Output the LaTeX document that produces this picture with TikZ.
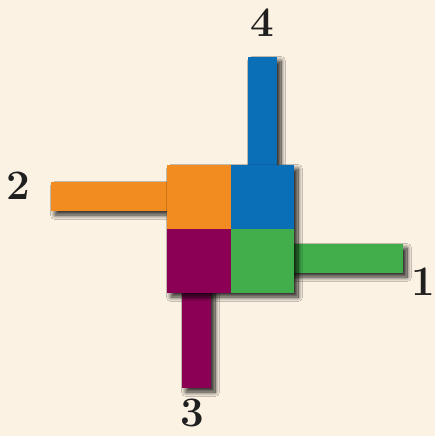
\documentclass[tikz,border=0pt]{standalone}
\usetikzlibrary{shadows.blur}
\definecolor{bg}{HTML}{FCF2E3}
\definecolor{corange}{HTML}{F28C20}
\definecolor{cblue}{HTML}{0A6FB7}
\definecolor{cpurple}{HTML}{8B0055}
\definecolor{cgreen}{HTML}{41AE4B}
\tikzset{
  shad/.style={blur shadow={shadow xshift=4pt, shadow yshift=-4pt, shadow blur radius=4.5pt, shadow opacity=85, shadow blur steps=12}},
  blk/.style={draw=none, inner sep=0pt, outer sep=0pt, rectangle},
  lab/.style={font=\fontsize{42}{42}\selectfont\bfseries, text=black!88, inner sep=0pt}
}
\begin{document}
\begin{tikzpicture}[x=1pt,y=-1pt]
\fill[bg] (0,0) rectangle (435,436);
\useasboundingbox (0,0) rectangle (435,436);
% bars
\node[blk, shad, fill=cblue, minimum width=29pt, minimum height=113pt] (barb) at (262.5,113.5) {};
\node[blk, shad, fill=corange, minimum width=125pt, minimum height=29pt] (baro) at (113.5,196.5) {};
\node[blk, shad, fill=cgreen, minimum width=119pt, minimum height=29pt] (barg) at (343.5,258.5) {};
\node[blk, shad, fill=cpurple, minimum width=29pt, minimum height=104pt] (barp) at (196.5,336) {};
% block shadow
\node[blk, shad, fill=bg, minimum width=127pt, minimum height=128pt] (block) at (230.5,229) {};
% squares
\node[blk, fill=corange, minimum width=63.5pt, minimum height=64pt] (so) at (198.75,197) {};
\node[blk, fill=cblue, minimum width=63.5pt, minimum height=64pt] (sb) at (262.25,197) {};
\node[blk, fill=cpurple, minimum width=63.5pt, minimum height=64pt] (sp) at (198.75,261) {};
\node[blk, fill=cgreen, minimum width=63.5pt, minimum height=64pt] (sg) at (262.25,261) {};
% labels
\node[lab] (l4) at (262,23) {4};
\node[lab] (l2) at (18.5,186) {2};
\node[lab] (l1) at (423,282) {1};
\node[lab] (l3) at (192,413) {3};
\end{tikzpicture}
\end{document}
